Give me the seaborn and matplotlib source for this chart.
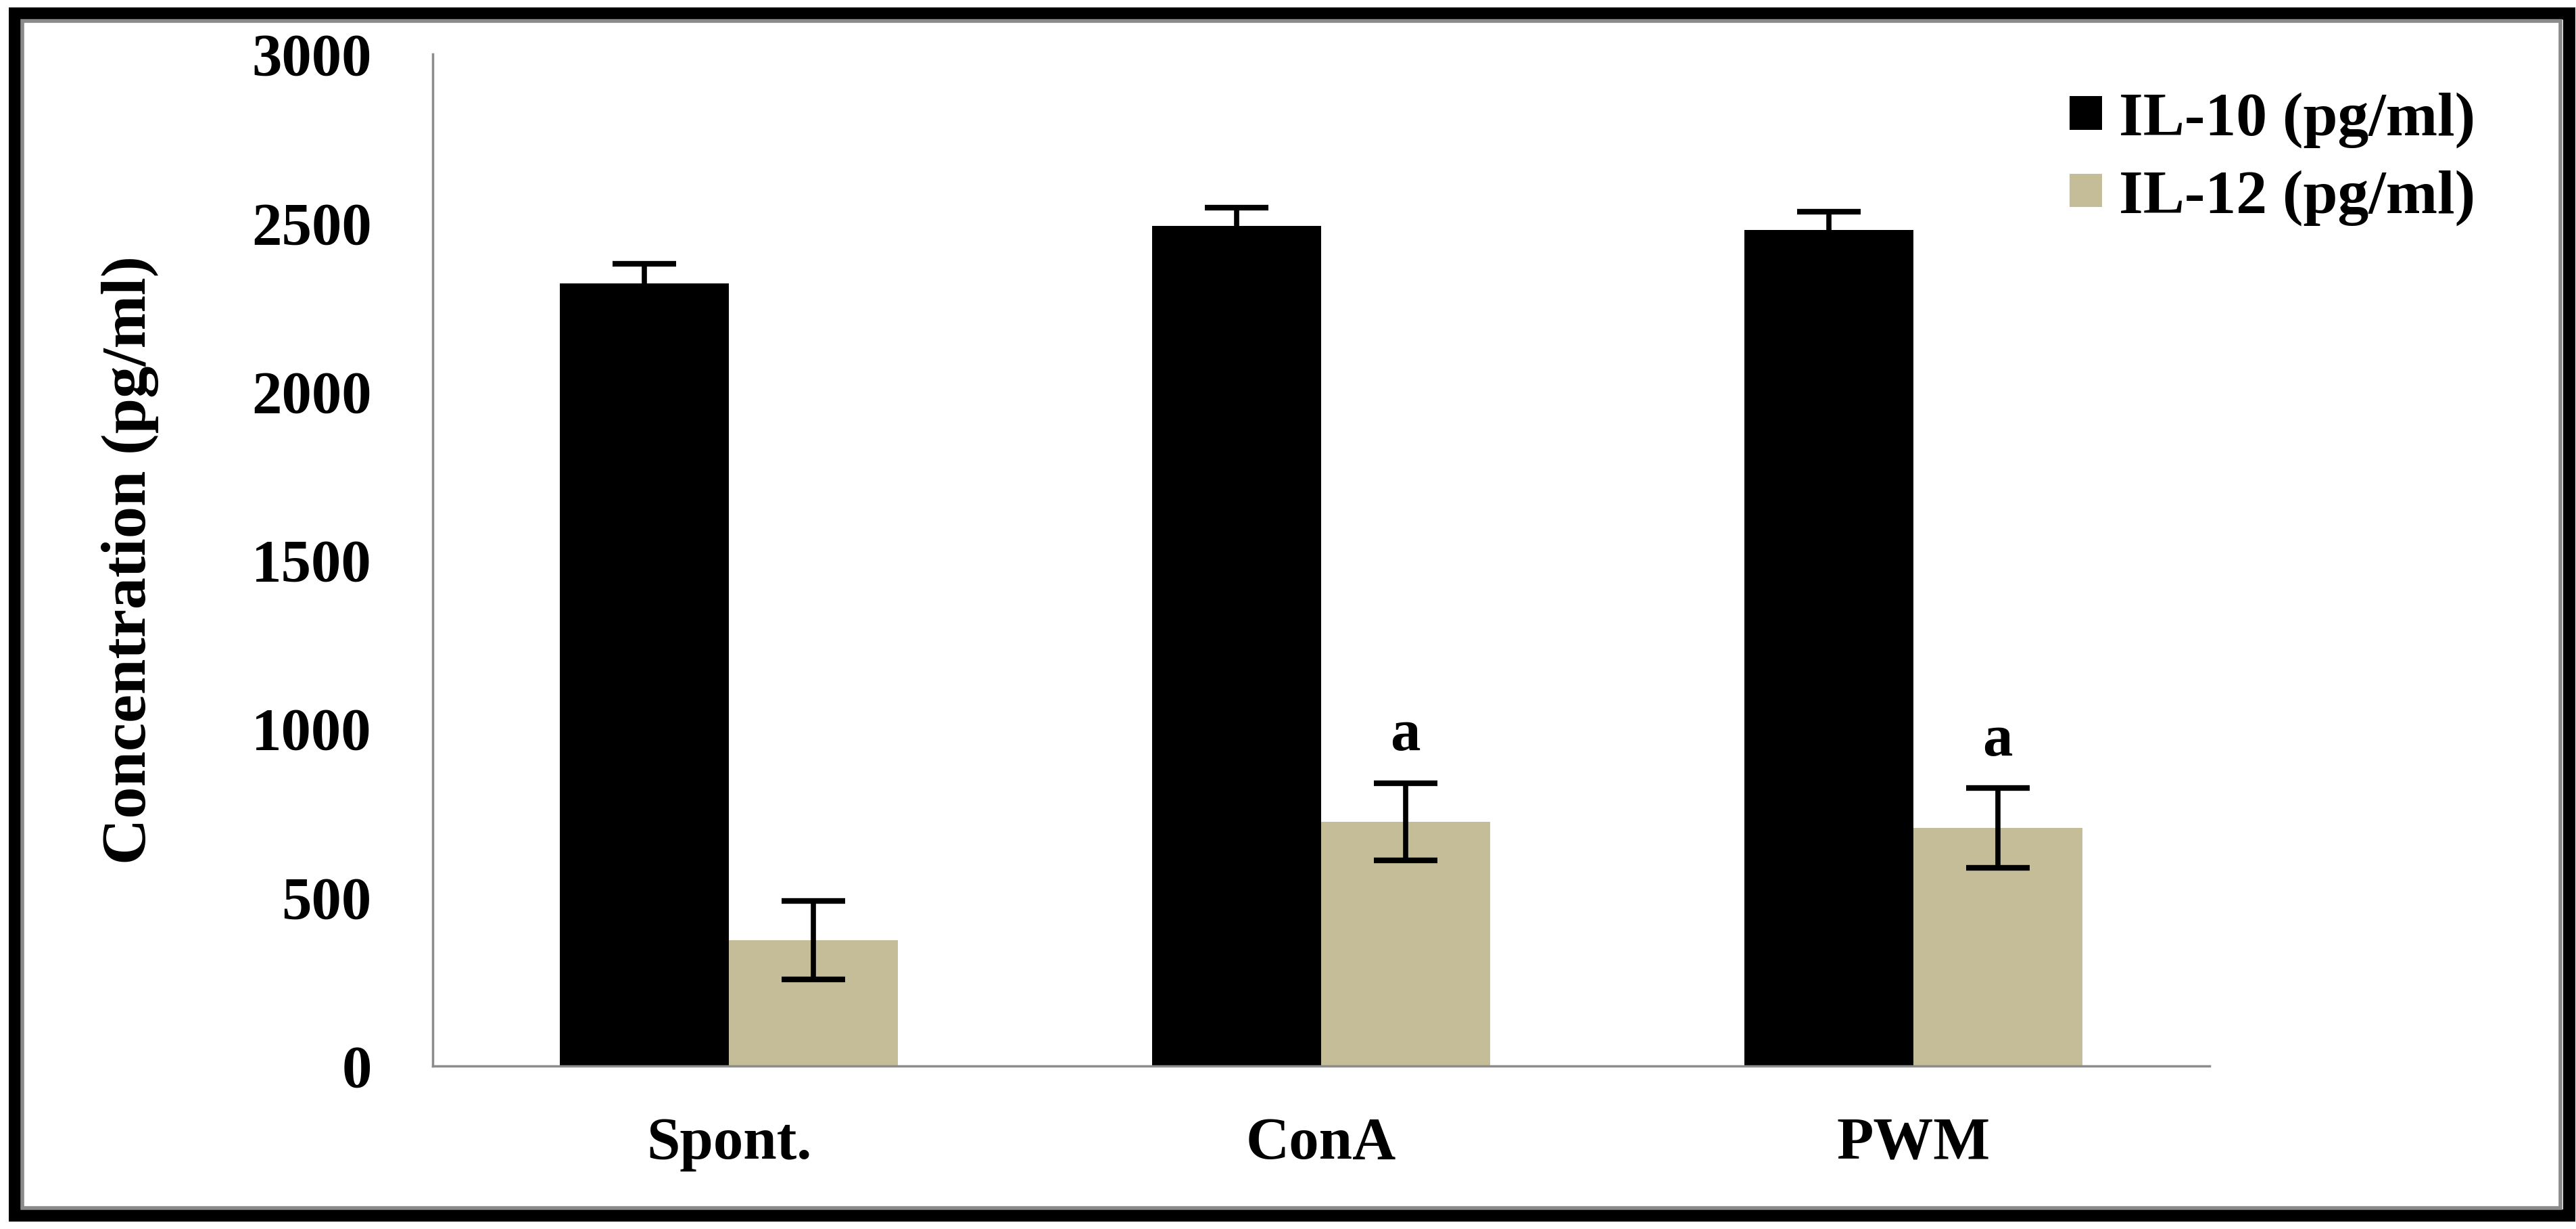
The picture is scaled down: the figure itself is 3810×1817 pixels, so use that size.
import pandas as pd
import matplotlib.pyplot as plt
import matplotlib.patches as mpatches
import seaborn as sns

# values
groups = ["Spont.", "ConA", "PWM"]
il10_mean = [2320, 2490, 2478]
il10_err = [58, 55, 55]
il12_mean = [372, 723, 705]
il12_err = [117, 115, 118]
series = ["IL-10 (pg/ml)", "IL-12 (pg/ml)"]
sig_marks = ["", "a", "a"]  # letters above the IL-12 bars

df = pd.DataFrame({
    "group": groups * 2,
    "cytokine": [series[0]] * 3 + [series[1]] * 3,
    "value": il10_mean + il12_mean,
})
errs = {series[0]: il10_err, series[1]: il12_err}

sns.set_style("white")
plt.rcParams["font.family"] = ["Liberation Serif", "DejaVu Serif"]
plt.rcParams["font.weight"] = "bold"
plt.rcParams["text.color"] = "black"
plt.rcParams["axes.labelcolor"] = "black"

fig = plt.figure(figsize=(38.1, 18.17), dpi=100)
ax = fig.add_axes([0.168, 0.1329, 0.8577 - 0.168, 0.956 - 0.1329])

sns.barplot(data=df, x="group", y="value", hue="cytokine", order=groups,
            hue_order=series, palette=["black", "#c4bd97"], width=0.57,
            gap=0, errorbar=None, linewidth=0, saturation=1, ax=ax)

# error bars on top of each bar
for cont, name in zip(ax.containers, series):
    xs = [p.get_x() + p.get_width() / 2 for p in cont]
    hs = [p.get_height() for p in cont]
    ax.errorbar(xs, hs, yerr=errs[name], fmt="none", ecolor="black",
                elinewidth=5.5, capsize=34, capthick=6, zorder=5)

# significance letters
xs12 = [p.get_x() + p.get_width() / 2 for p in ax.containers[1]]
for x, m, e, s in zip(xs12, il12_mean, il12_err, sig_marks):
    if s:
        ax.text(x, m + e + 140, s, ha="center", va="center",
                fontsize=64, fontweight="bold", color="black")

ax.set_xlim(-0.5, 2.5)
ax.set_ylim(0, 3000)
ax.set_yticks(range(0, 3001, 500))
ax.set_xlabel("")
ax.set_ylabel("Concentration (pg/ml)", fontsize=68, fontweight="bold",
              labelpad=99, color="black")

for side in ["top", "right"]:
    ax.spines[side].set_visible(False)
for side in ["left", "bottom"]:
    ax.spines[side].set_color("#8c8c8c")
    ax.spines[side].set_linewidth(2.5)

ax.tick_params(axis="y", direction="in", length=21, width=2,
               color="#8c8c8c", pad=65, labelsize=64, labelcolor="black")
ax.tick_params(axis="x", length=0, pad=54, labelsize=64, labelcolor="black")
for lab in ax.get_xticklabels() + ax.get_yticklabels():
    lab.set_fontweight("bold")

handles, labels = ax.get_legend_handles_labels()
leg = ax.legend(handles, labels, loc="upper left",
                bbox_to_anchor=(0.8035, 0.925), bbox_transform=fig.transFigure,
                frameon=False, handlelength=0.52, handleheight=0.45,
                handletextpad=0.27, labelspacing=0.35, borderpad=0,
                borderaxespad=0, prop={"weight": "bold", "size": 66})
for t in leg.get_texts():
    t.set_color("black")

# page frame: thick black border with a thin grey inner line
W, H = 3810, 1817
fig.patches.append(mpatches.Rectangle(
    (22 / W, 20 / H), (3800 - 22) / W, (1797 - 20) / H,
    transform=fig.transFigure, fill=False, edgecolor="black", linewidth=13))
fig.patches.append(mpatches.Rectangle(
    (33 / W, 31 / H), (3787 - 33) / W, (1786 - 31) / H,
    transform=fig.transFigure, fill=False, edgecolor="#8a8a8a", linewidth=4))

fig.savefig("out.png", dpi=100)
